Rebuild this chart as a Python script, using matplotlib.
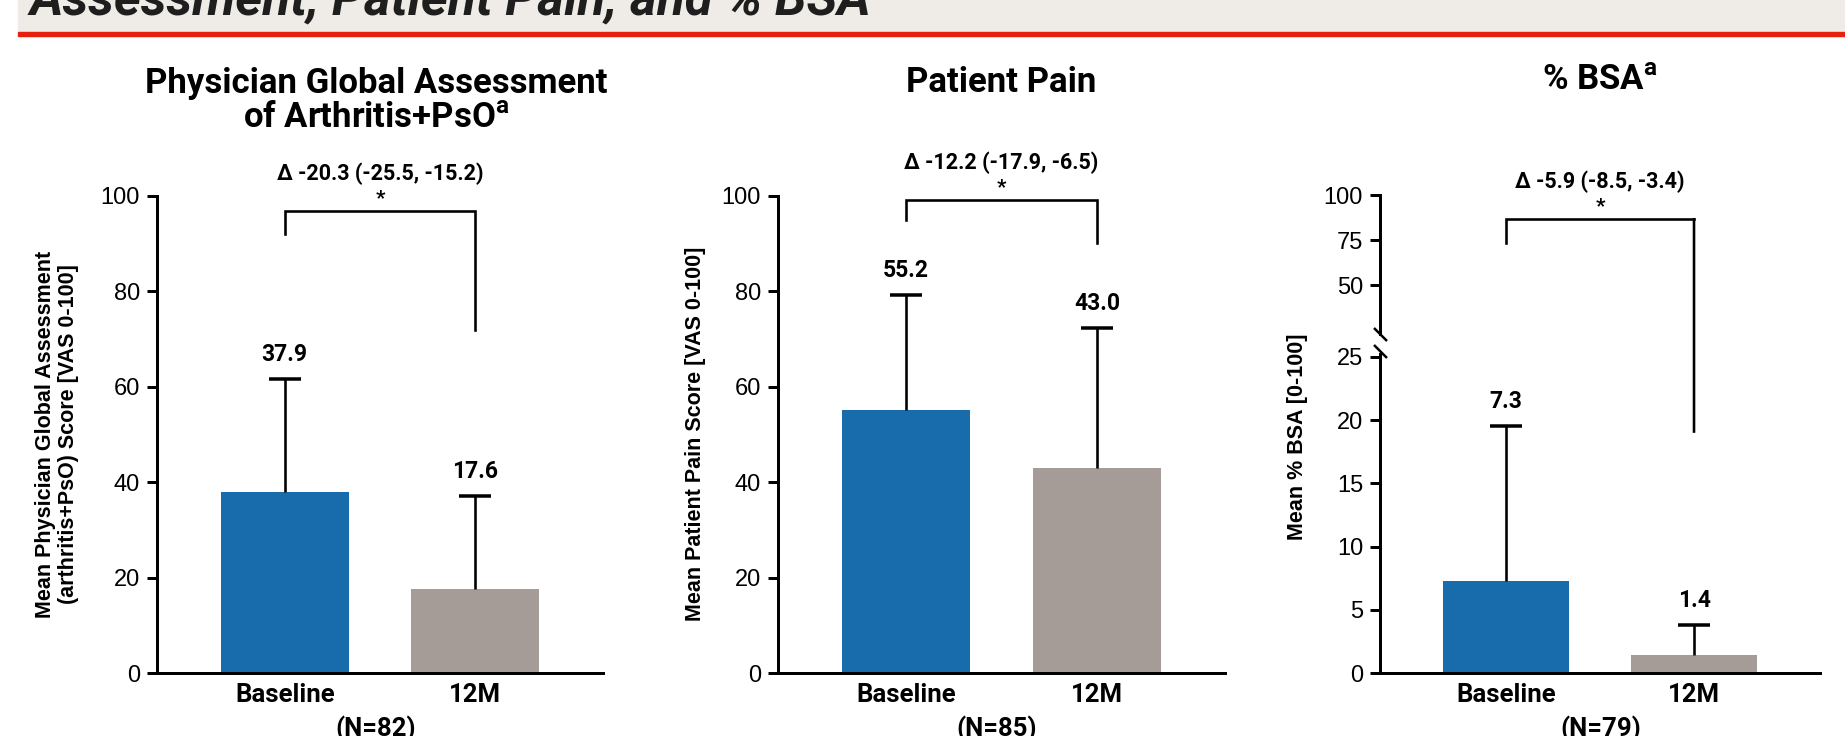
import numpy as np
import matplotlib.pyplot as plt
from matplotlib.patches import Rectangle, ConnectionPatch

W, H, DPI = 1845, 736, 100
PT = 72.0 / DPI  # points per pixel

# ---- data ----
groups = ['Baseline', '12M']
bar_colors = ['#186CAC', '#A69C97']

pga_mean = [37.9, 17.6]
pga_sd = [23.7, 19.6]
pga_delta = '\u2206 -20.3 (-25.5, -15.2)'
pga_n = 82

pain_mean = [55.2, 43.0]
pain_sd = [24.0, 29.4]
pain_delta = '\u2206 -12.2 (-17.9, -6.5)'
pain_n = 85

bsa_mean = [7.3, 1.4]
bsa_sd = [12.2, 2.4]
bsa_delta = '\u2206 -5.9 (-8.5, -3.4)'
bsa_n = 79

# bracket heights (left end, top, right end) in axis units
pga_bracket = (92.0, 96.9, 71.9)
pain_bracket = (95.0, 99.2, 90.2)
bsa_bracket = (73.6, 86.6, 19.1)

plt.rcParams['font.family'] = ['Roboto', 'DejaVu Sans']
plt.rcParams['mathtext.fontset'] = 'custom'
plt.rcParams['mathtext.rm'] = 'Roboto:bold'
BOLD = dict(fontweight='bold')
LINE = 2.6 * PT
TICKFONT = 'Liberation Sans'
YLAB = dict(family='Liberation Sans', fontsize=15.5, fontweight='bold',
            rotation=90, ha='center', va='center')


def fx(x):
  return x / W


def fy(y):
  return 1 - y / H


def make_axes(left, top, right, bottom):
  return fig.add_axes([fx(left), fy(bottom), (right - left) / W, (bottom - top) / H])


def style_axis(ax, ticks, bottom=True):
  ax.set_facecolor('none')
  for s in ['top', 'right']:
    ax.spines[s].set_visible(False)
  ax.spines['left'].set_linewidth(3 * PT)
  ax.spines['bottom'].set_linewidth(3 * PT)
  if not bottom:
    ax.spines['bottom'].set_visible(False)
  ax.set_yticks(ticks)
  ax.tick_params(axis='y', direction='out', length=10 * PT, width=3 * PT, pad=5)
  ax.set_yticklabels([str(t) for t in ticks], family=TICKFONT, fontsize=17)
  ax.set_xlim(-0.67, 1.67)
  if bottom:
    ax.set_xticks([0, 1])
    ax.set_xticklabels(groups, fontsize=18.5, fontweight='bold')
    ax.tick_params(axis='x', length=0, pad=7)
  else:
    ax.set_xticks([])


def draw_bars(ax, mean, sd):
  x = np.arange(len(mean))
  ax.bar(x, mean, width=0.67, color=bar_colors, zorder=2)
  _, caps, _ = ax.errorbar(x, mean, yerr=[np.zeros(len(sd)), sd], fmt='none', ecolor='black',
                           elinewidth=LINE, capsize=16 * PT, capthick=3.5 * PT, zorder=3)
  caps[0].set_visible(False)  # no cap at the bar top
  for xi, m, s in zip(x, mean, sd):
    ax.annotate(f'{m:.1f}', xy=(xi, m + s), xytext=(0, 13 * PT), textcoords='offset points',
                ha='center', va='bottom', fontsize=16.5, **BOLD)


def draw_labels(ax, top, delta):
  ax.annotate('*', xy=(0.5, top), xytext=(0, 3 * PT), textcoords='offset points',
              ha='center', va='bottom', fontsize=15, **BOLD)
  ax.annotate(delta, xy=(0.5, top), xytext=(0, 26 * PT), textcoords='offset points',
              ha='center', va='bottom', fontsize=15.5, **BOLD)


def draw_bracket(ax, br, delta):
  left, top, right = br
  ax.plot([0, 0, 1, 1], [left, top, top, right], color='black', lw=LINE,
          clip_on=False, solid_joinstyle='miter')
  draw_labels(ax, top, delta)


fig = plt.figure(figsize=(W / DPI, H / DPI), dpi=DPI)

# header band with red rule
fig.patches.append(Rectangle((fx(18), fy(32)), 1 - fx(18), 32 / H, transform=fig.transFigure,
                             color='#EFECE7', zorder=0))
fig.patches.append(Rectangle((fx(18), fy(36)), 1 - fx(18), 4 / H, transform=fig.transFigure,
                             color='#E5200E', zorder=0))
fig.text(fx(30), fy(15), 'Assessment, Patient Pain, and % BSA', fontsize=37,
         fontweight='bold', fontstyle='italic', color='#1E1E1E', va='baseline')

# ---- Physician Global Assessment ----
ax1 = make_axes(157, 196, 603, 673)
style_axis(ax1, [0, 20, 40, 60, 80, 100])
ax1.set_ylim(0, 100)
draw_bars(ax1, pga_mean, pga_sd)
draw_bracket(ax1, pga_bracket, pga_delta)
fig.text(fx(376), fy(101), 'Physician Global Assessment\nof Arthritis+PsO$^{\\mathregular{a}}$',
         ha='center', va='center', fontsize=25, linespacing=1.1, **BOLD)
fig.text(fx(57), fy(434), 'Mean Physician Global Assessment\n(arthritis+PsO) Score [VAS 0-100]',
         linespacing=1.1, **YLAB)
fig.text(fx(376), fy(729), f'(N={pga_n})', ha='center', va='center', fontsize=18.5, **BOLD)

# ---- Patient Pain ----
ax2 = make_axes(778, 196, 1225, 673)
style_axis(ax2, [0, 20, 40, 60, 80, 100])
ax2.set_ylim(0, 100)
draw_bars(ax2, pain_mean, pain_sd)
draw_bracket(ax2, pain_bracket, pain_delta)
fig.text(fx(1001), fy(82), 'Patient Pain', ha='center', va='center', fontsize=25, **BOLD)
fig.text(fx(696), fy(434), 'Mean Patient Pain Score [VAS 0-100]', **YLAB)
fig.text(fx(997), fy(729), f'(N={pain_n})', ha='center', va='center', fontsize=18.5, **BOLD)

# ---- % BSA, broken y axis ----
ax3 = make_axes(1380, 351, 1820, 673)
style_axis(ax3, [0, 5, 10, 15, 20, 25])
ax3.set_ylim(0, 25.47)
ax3.spines['left'].set_bounds(0, 25.2)
ax3u = make_axes(1380, 195, 1820, 334)
style_axis(ax3u, [50, 75, 100], bottom=False)
ax3u.set_ylim(23.2, 100)
draw_bars(ax3, bsa_mean, bsa_sd)

left, top, right = bsa_bracket
ax3u.plot([0, 0, 1], [left, top, top], color='black', lw=LINE, clip_on=False,
          solid_joinstyle='miter')
fig.add_artist(ConnectionPatch(xyA=(1, top), coordsA=ax3u.transData,
                               xyB=(1, right), coordsB=ax3.transData,
                               color='black', lw=LINE, capstyle='projecting'))
draw_labels(ax3u, top, bsa_delta)

# break marks on the y axis
brk = dict(marker=[(-1, 1), (1, -1)], markersize=13 * PT, linestyle='none',
           color='black', mec='black', mew=2.5 * PT, clip_on=False)
ax3.plot([0], [1], transform=ax3.transAxes, **brk)
ax3u.plot([0], [0], transform=ax3u.transAxes, **brk)

fig.text(fx(1600), fy(80), '% BSA$^{\\mathregular{a}}$', ha='center', va='center',
         fontsize=25, **BOLD)
fig.text(fx(1298), fy(437), 'Mean % BSA [0-100]', **YLAB)
fig.text(fx(1601), fy(729), f'(N={bsa_n})', ha='center', va='center', fontsize=18.5, **BOLD)

fig.savefig('out.png', dpi=DPI)
